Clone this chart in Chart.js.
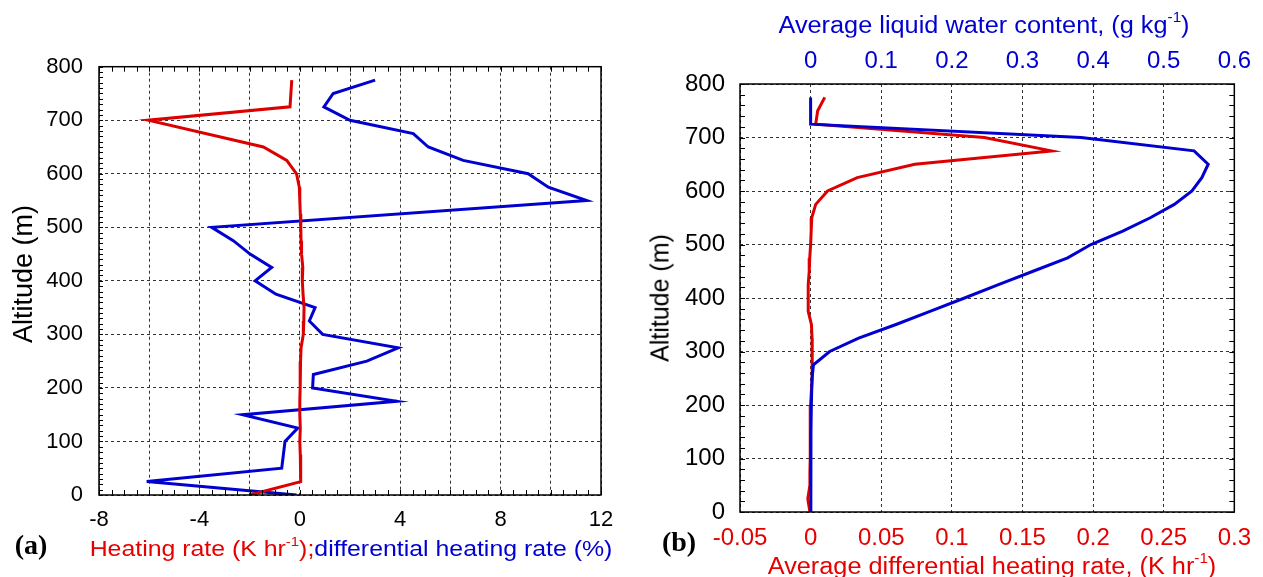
<!DOCTYPE html>
<html>
<head>
<meta charset="utf-8">
<script src="https://cdn.jsdelivr.net/npm/chart.js@4.4.1/dist/chart.umd.min.js"></script>
<style>
  body { margin: 0; background: #fff; width: 1263px; height: 577px; position: relative; overflow: hidden;
         font-family: "Liberation Sans", Arial, sans-serif; }
  canvas { position: absolute; top: 0; }
  #chartA { left: 0; }
  #chartB { left: 630px; }
  .lbl { position: absolute; white-space: nowrap; line-height: 1; }
  .lbl sup { font-size: 0.6em; vertical-align: 0.75em; line-height: 0; }
  .panel { font-family: "Liberation Serif", "Times New Roman", serif; font-weight: bold; font-size: 28px; }
  .red { color: #e60000; }
  .blue { color: #0000d0; }
</style>
</head>
<body>
<canvas id="chartA" width="630" height="577"></canvas>
<canvas id="chartB" width="633" height="577"></canvas>

<div class="lbl" style="left:23px; top:274px; font-size:27px; transform: translate(-50%,-50%) rotate(-90deg);">Altitude (m)</div>
<div class="lbl panel" style="left:31px; top:545px; transform: translate(-50%,-50%);">(a)</div>
<div class="lbl" style="left:351px; top:549px; font-size:22px; transform: translate(-50%,-50%) scaleX(1.13);"><span class="red">Heating rate (K hr<sup>-1</sup>);</span><span class="blue">differential heating rate (%)</span></div>

<div class="lbl" style="left:660px; top:298px; font-size:25px; transform: translate(-50%,-50%) rotate(-90deg);">Altitude (m)</div>
<div class="lbl panel" style="left:679px; top:542px; transform: translate(-50%,-50%);">(b)</div>
<div class="lbl blue" style="left:984px; top:25px; font-size:23px; transform: translate(-50%,-50%) scaleX(1.1);">Average liquid water content, (g kg<sup>-1</sup>)</div>
<div class="lbl red" style="left:992px; top:566px; font-size:23px; transform: translate(-50%,-50%) scaleX(1.1);">Average differential heating rate, (K hr<sup>-1</sup>)</div>

<script>
// (a) heating rate profile (K/hr)
const altHeat = [775, 725, 700, 650, 625, 600, 575, 550, 525, 500, 475, 450, 425, 400, 375,
                 350, 325, 300, 275, 250, 225, 200, 175, 150, 125, 100, 75, 50, 25, 0];
const heatRate = [-0.32, -0.39, -6.04, -1.45, -0.52, -0.13, -0.02, 0.0, 0.02, 0.04, 0.05, 0.07, 0.12, 0.10, 0.13,
                  0.17, 0.16, 0.14, 0.05, 0.03, 0.02, 0.01, 0.0, 0.0, 0.02, 0.0, 0.02, 0.03, 0.04, -2.0];

// (a) differential heating rate (%)
const altDiff = [775, 750, 725, 700, 675, 650, 625, 600, 575, 550, 500, 475, 450, 425, 400,
                 375, 350, 325, 300, 275, 250, 225, 200, 175, 150, 125, 100, 50, 25, 0];
const diffRate = [3.0, 1.33, 0.96, 2.0, 4.52, 5.12, 6.51, 9.1, 9.9, 11.43, -3.51, -2.65, -1.98, -1.12, -1.78,
                  -0.95, 0.61, 0.38, 0.91, 3.92, 2.67, 0.54, 0.51, 3.86, -2.28, -0.08, -0.59, -0.72, -6.1, -0.13];

// (b) average differential heating rate (K/hr)
const altAvgHeat = [775, 750, 725, 700, 675, 650, 625, 600, 575, 550, 525, 500, 475, 450, 425, 400,
                    375, 350, 325, 300, 275, 250, 225, 200, 175, 150, 125, 100, 75, 50, 25, 0];
const avgHeat = [0.010, 0.005, 0.0036, 0.123, 0.1706, 0.0738, 0.033, 0.012, 0.0036, 0.0008, 0.0004, 0.0, -0.0006, -0.001, -0.0017, -0.0017,
                 -0.0017, 0.0006, 0.001, 0.0012, 0.0012, 0.001, 0.0005, 0.0, -0.0002, -0.0003, -0.0003, -0.0003, -0.0005, -0.0005, -0.002, -0.0005];

// (b) average liquid water content (g/kg)
const altLwc = [775, 750, 725, 700, 675, 650, 625, 600, 575, 550, 525, 500, 475, 450,
                425, 400, 375, 350, 325, 300, 275, 250, 200, 150, 100, 50, 0];
const lwc = [0, 0, 0, 0.383, 0.543, 0.563, 0.554, 0.540, 0.515, 0.481, 0.442, 0.397, 0.364, 0.315,
             0.266, 0.218, 0.169, 0.12, 0.068, 0.027, 0.004, 0.002, 0.001, 0.0005, 0.0003, 0.0003, 0.0003];

const RED = "#dd0000";
const BLUE = "#0000d0";
const FONT = "'Liberation Sans', Arial, sans-serif";

const toPoints = (alts, vals) => alts.map((a, i) => ({ x: vals[i], y: a }));

// box around the plot + small inward tick marks
const frameTicks = {
  id: "frameTicks",
  afterDraw(chart, args, opts) {
    const { ctx, chartArea: a, scales } = chart;
    ctx.save();
    ctx.strokeStyle = "#000";
    ctx.lineWidth = 1;
    (opts.marks || []).forEach((m) => {
      const s = scales[m.scale];
      ctx.beginPath();
      for (let v = m.from; v <= m.to + 1e-9; v += m.step) {
        const p = Math.round(s.getPixelForValue(v)) + 0.5;
        if (m.side === "top") { ctx.moveTo(p, a.top); ctx.lineTo(p, a.top + m.len); }
        if (m.side === "bottom") { ctx.moveTo(p, a.bottom); ctx.lineTo(p, a.bottom - m.len); }
        if (m.side === "left") { ctx.moveTo(a.left, p); ctx.lineTo(a.left + m.len, p); }
        if (m.side === "right") { ctx.moveTo(a.right, p); ctx.lineTo(a.right - m.len, p); }
      }
      ctx.stroke();
    });
    ctx.lineWidth = 1.5;
    ctx.strokeRect(a.left, a.top, a.right - a.left, a.bottom - a.top);
    ctx.restore();
  },
};

const lineStyle = (color) => ({
  borderColor: color,
  borderWidth: 3,
  pointRadius: 0,
  fill: false,
  tension: 0,
});

const gridOpts = { color: "#333", lineWidth: 1, drawTicks: false };

// chart (a)
new Chart(document.getElementById("chartA"), {
  type: "line",
  data: {
    datasets: [
      { data: toPoints(altHeat, heatRate), ...lineStyle(RED) },
      { data: toPoints(altDiff, diffRate), ...lineStyle(BLUE) },
    ],
  },
  options: {
    responsive: false,
    animation: false,
    layout: { padding: { left: 0, right: 29, top: 66.7, bottom: 42 } },
    plugins: {
      legend: { display: false },
      tooltip: { enabled: false },
      frameTicks: {
        marks: [
          { scale: "x", side: "top", from: -8, to: 12, step: 0.5, len: 5 },
          { scale: "x", side: "bottom", from: -8, to: 12, step: 0.5, len: 5 },
          { scale: "y", side: "left", from: 0, to: 800, step: 10, len: 4 },
        ],
      },
    },
    scales: {
      x: {
        type: "linear",
        min: -8,
        max: 12,
        afterFit: (s) => { s.height = 40; },
        ticks: {
          stepSize: 2,
          autoSkip: false,
          maxRotation: 0,
          padding: 12,
          color: "#000",
          font: { size: 22, family: FONT },
          callback: (v) => (v % 4 === 0 ? v : ""),
        },
        grid: gridOpts,
        border: { display: false, dash: [3, 3] },
      },
      y: {
        type: "linear",
        min: 0,
        max: 800,
        afterFit: (s) => { s.width = 99; },
        ticks: {
          stepSize: 100,
          autoSkip: false,
          padding: 16,
          color: "#000",
          font: { size: 22, family: FONT },
        },
        grid: gridOpts,
        border: { display: false, dash: [3, 3] },
      },
    },
  },
  plugins: [frameTicks],
});

// chart (b)
new Chart(document.getElementById("chartB"), {
  type: "line",
  data: {
    datasets: [
      { data: toPoints(altLwc, lwc), xAxisID: "x2", ...lineStyle(BLUE) },
      { data: toPoints(altAvgHeat, avgHeat), xAxisID: "x", ...lineStyle(RED) },
    ],
  },
  options: {
    responsive: false,
    animation: false,
    layout: { padding: { left: 0, right: 20, top: 0, bottom: 25 } },
    plugins: {
      legend: { display: false },
      tooltip: { enabled: false },
      frameTicks: {
        marks: [
          { scale: "y", side: "left", from: 0, to: 800, step: 20, len: 5 },
          { scale: "y", side: "right", from: 0, to: 800, step: 20, len: 5 },
        ],
      },
    },
    scales: {
      x: {
        type: "linear",
        position: "bottom",
        min: -0.05,
        max: 0.3,
        afterFit: (s) => { s.height = 40; },
        ticks: {
          stepSize: 0.05,
          autoSkip: false,
          maxRotation: 0,
          padding: 12,
          color: "#e60000",
          font: { size: 24, family: FONT },
          callback: (v) => +v.toFixed(2),
        },
        grid: gridOpts,
        border: { display: false, dash: [3, 3] },
      },
      x2: {
        type: "linear",
        position: "top",
        min: -0.1,
        max: 0.6,
        afterFit: (s) => { s.height = 84; },
        ticks: {
          stepSize: 0.1,
          autoSkip: false,
          maxRotation: 0,
          padding: 0,
          color: BLUE,
          font: { size: 24, family: FONT },
          callback: (v) => (v < -0.05 ? "" : +v.toFixed(1)),
        },
        grid: { display: false },
        border: { display: false },
      },
      y: {
        type: "linear",
        min: 0,
        max: 800,
        afterFit: (s) => { s.width = 110; },
        ticks: {
          stepSize: 100,
          autoSkip: false,
          padding: 15,
          color: "#000",
          font: { size: 24, family: FONT },
        },
        grid: gridOpts,
        border: { display: false, dash: [3, 3] },
      },
    },
  },
  plugins: [frameTicks],
});
</script>
</body>
</html>
